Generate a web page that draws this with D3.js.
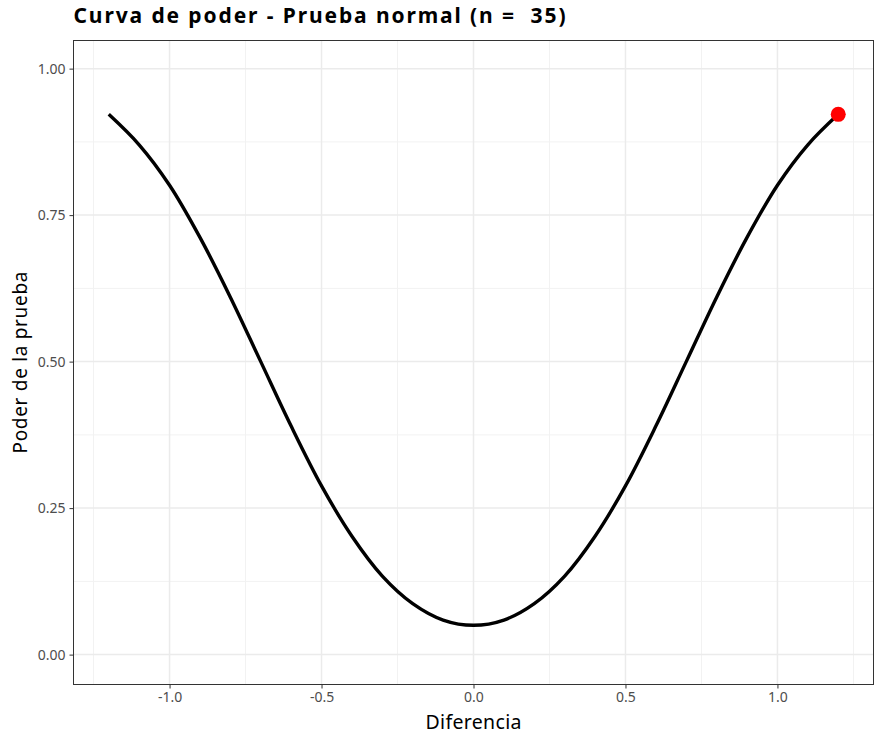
<!DOCTYPE html>
<html><head><meta charset="utf-8">
<script src="https://cdn.jsdelivr.net/npm/d3@7"></script>
<style>body{margin:0;background:#fff;} text{font-family:"Noto Sans",sans-serif;}</style>
</head><body>
<svg id="c" width="892" height="741"></svg>
<script>
const diffs = [-1.2,-1.1,-1.0,-0.9,-0.8,-0.7,-0.6,-0.5,-0.4,-0.3,-0.2,-0.1,0.0,0.1,0.2,0.3,0.4,0.5,0.6,0.7,0.8,0.9,1.0,1.1,1.2];
const power = [0.922,0.870,0.801,0.712,0.610,0.500,0.390,0.288,0.202,0.134,0.087,0.059,0.050,0.059,0.087,0.134,0.202,0.288,0.390,0.500,0.610,0.712,0.801,0.870,0.922];
const highlightX = [1.2];
const highlightY = [0.922];
const xTicks = [-1.0,-0.5,0.0,0.5,1.0];
const xMinor = [-1.25,-0.75,-0.25,0.25,0.75,1.25];
const yTicks = [0,0.25,0.5,0.75,1.0];
const yMinor = [0.125,0.375,0.625,0.875];
const title = "Curva de poder - Prueba normal (n =  35)";

const svg = d3.select("#c");
const L=73.5, R=873.5, T=40.5, B=684.5;
const x = d3.scaleLinear().domain([-1.316,1.316]).range([L,R]);
const y = d3.scaleLinear().domain([-0.051,1.048]).range([B,T]);

const g = svg.append("g");
g.selectAll(".xm").data(xMinor).join("line").attr("x1",d=>x(d)).attr("x2",d=>x(d)).attr("y1",T).attr("y2",B).attr("stroke","#f2f2f2").attr("stroke-width",1);
g.selectAll(".ym").data(yMinor).join("line").attr("y1",d=>y(d)).attr("y2",d=>y(d)).attr("x1",L).attr("x2",R).attr("stroke","#f2f2f2").attr("stroke-width",1);
g.selectAll(".xM").data(xTicks).join("line").attr("x1",d=>x(d)).attr("x2",d=>x(d)).attr("y1",T).attr("y2",B).attr("stroke","#ebebeb").attr("stroke-width",1.5);
g.selectAll(".yM").data(yTicks).join("line").attr("y1",d=>y(d)).attr("y2",d=>y(d)).attr("x1",L).attr("x2",R).attr("stroke","#ebebeb").attr("stroke-width",1.5);

const data = diffs.map((d,i)=>[d,power[i]]);
svg.append("path").datum(data)
  .attr("d", d3.line().x(d=>x(d[0])).y(d=>y(d[1])).curve(d3.curveCatmullRom))
  .attr("fill","none").attr("stroke","#000").attr("stroke-width",3.4);

svg.selectAll(".pt").data(highlightX).join("circle")
  .attr("cx",d=>x(d)).attr("cy",(d,i)=>y(highlightY[i])).attr("r",7.5).attr("fill","#ff0000");

svg.append("rect").attr("x",L).attr("y",T).attr("width",R-L).attr("height",B-T).attr("fill","none").attr("stroke","#333333").attr("stroke-width",1);

const hy = f => d => f(d).replace("\u2212","-");
const xa = svg.append("g").attr("transform",`translate(0,${B})`)
  .call(d3.axisBottom(x).tickValues(xTicks).tickFormat(hy(d3.format(".1f"))).tickSize(4).tickPadding(4));
xa.select(".domain").remove();
xa.selectAll("line").attr("stroke","#333333").attr("stroke-width",1);
xa.selectAll("text").attr("fill","#4d4d4d").attr("font-size",14).attr("font-family","'Noto Sans',sans-serif");

const ya = svg.append("g").attr("transform",`translate(${L},0)`)
  .call(d3.axisLeft(y).tickValues(yTicks).tickFormat(hy(d3.format(".2f"))).tickSize(4).tickPadding(4));
ya.select(".domain").remove();
ya.selectAll("line").attr("stroke","#333333").attr("stroke-width",1);
ya.selectAll("text").attr("fill","#4d4d4d").attr("font-size",14).attr("font-family","'Noto Sans',sans-serif");

svg.append("text").attr("x",(L+R)/2).attr("y",729).attr("text-anchor","middle").attr("font-size",19.5)
  .attr("textLength",96).attr("lengthAdjust","spacing").attr("fill","#000").text("Diferencia");
svg.append("text").attr("transform",`translate(27,${(T+B)/2}) rotate(-90)`).attr("text-anchor","middle").attr("font-size",19)
  .attr("textLength",182).attr("lengthAdjust","spacing").attr("fill","#000").text("Poder de la prueba");
svg.append("text").attr("x",L).attr("y",23).attr("font-size",21).attr("font-weight","bold")
  .attr("textLength",492).attr("lengthAdjust","spacing").style("white-space","pre").attr("fill","#000").text(title);
</script>
</body></html>
